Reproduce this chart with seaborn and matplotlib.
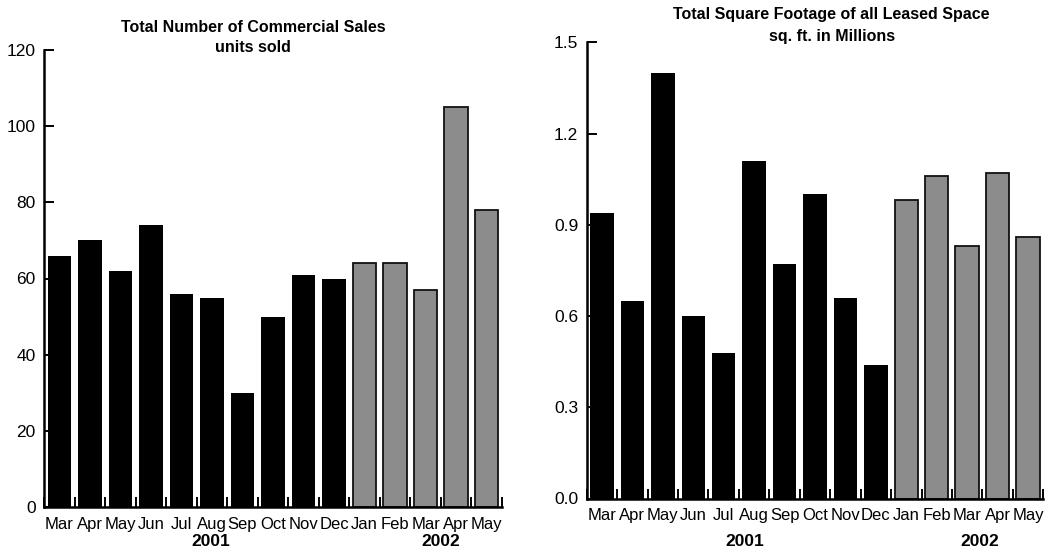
import matplotlib
matplotlib.use("Agg")
import matplotlib.pyplot as plt
import seaborn as sns
import pandas as pd
import numpy as np

# ---- data ----
months = ["Mar", "Apr", "May", "Jun", "Jul", "Aug", "Sep", "Oct", "Nov", "Dec",
          "Jan", "Feb", "Mar", "Apr", "May"]
years = ["2001"] * 10 + ["2002"] * 5
sales_units = [66, 70, 62, 74, 56, 55, 30, 50, 61, 60, 64, 64, 57, 105, 78]
leased_sqft_millions = [0.94, 0.65, 1.40, 0.60, 0.48, 1.11, 0.77, 1.00, 0.66, 0.44,
                        0.98, 1.06, 0.83, 1.07, 0.86]
left_title = ["Total Number of Commercial Sales", "units sold"]
right_title = ["Total Square Footage of all Leased Space", "sq. ft. in Millions"]
left_yticks = [0, 20, 40, 60, 80, 100, 120]
right_yticks = [0.0, 0.3, 0.6, 0.9, 1.2, 1.5]

sns.set_theme(style="white")
plt.rcParams["font.family"] = ["Liberation Sans", "DejaVu Sans"]
plt.rcParams["text.color"] = "black"
plt.rcParams["xtick.color"] = "black"
plt.rcParams["ytick.color"] = "black"

periods = [f"{m} {y} #{i}" for i, (m, y) in enumerate(zip(months, years))]
df = pd.DataFrame({"period": periods, "month": months, "year": years,
                   "sales": sales_units, "leased": leased_sqft_millions})
palette = {"2001": "#000000", "2002": "#8c8c8c"}

W, H = 1055, 552
fig = plt.figure(figsize=(W / 100, H / 100), dpi=100)
axL = fig.add_axes([44 / W, 1 - 507 / H, (502 - 44) / W, (507 - 50) / H])
axR = fig.add_axes([586.7 / W, 1 - 498.5 / H, (1043.3 - 586.7) / W, (498.5 - 42.3) / H])


def draw(ax, col, yticks, ylabels, year_pos, year_y):
    sns.barplot(data=df, x="period", y=col, hue="year", palette=palette,
                dodge=False, width=0.77, legend=False, ax=ax, order=periods)
    for p in ax.patches:
        fc = p.get_facecolor()
        if fc[0] > 0.3:
            p.set_edgecolor("#111111")
            p.set_linewidth(1.3)
        else:
            p.set_edgecolor("#000000")
            p.set_linewidth(0)
    n = len(periods)
    ax.set_xlim(-0.5, n - 0.5)
    ax.set_ylim(yticks[0], yticks[-1])
    ax.set_xlabel("")
    ax.set_ylabel("")
    for s in ["top", "right"]:
        ax.spines[s].set_visible(False)
    for s in ["left", "bottom"]:
        ax.spines[s].set_color("black")
        ax.spines[s].set_linewidth(1.8)
    ax.set_yticks(yticks)
    ax.set_yticklabels(ylabels, fontsize=12.5, color="black")
    ax.tick_params(axis="y", direction="in", length=7, width=1.4, pad=6,
                   left=True, colors="black")
    ax.set_xticks(range(n))
    ax.set_xticklabels(months, fontsize=12, color="black")
    ax.tick_params(axis="x", which="major", length=0, pad=7, colors="black")
    ax.set_xticks(np.arange(-0.5, n, 1.0), minor=True)
    ax.tick_params(axis="x", which="minor", direction="in", length=7, width=1.4,
                   bottom=True, colors="black")
    for lab, xp in zip(["2001", "2002"], year_pos):
        ax.text(xp, year_y, lab, transform=ax.get_xaxis_transform(),
                ha="center", va="center", fontsize=12.5, fontweight="bold",
                color="black")


draw(axL, "sales", left_yticks, [str(v) for v in left_yticks], [4.95, 12.5],
     -(542 - 507) / 457)
draw(axR, "leased", right_yticks, [f"{v:.1f}" for v in right_yticks], [4.7, 12.4],
     -(542 - 498.5) / 456.2)

for xp, yp, t in [(253, 27, left_title[0]), (253, 47, left_title[1]),
                  (831.7, 15, right_title[0]), (831.7, 37, right_title[1])]:
    fig.text(xp / W, 1 - yp / H, t, ha="center", va="center",
             fontsize=11.5, fontweight="bold", color="black")

fig.savefig("out.png", dpi=100, facecolor="white")
